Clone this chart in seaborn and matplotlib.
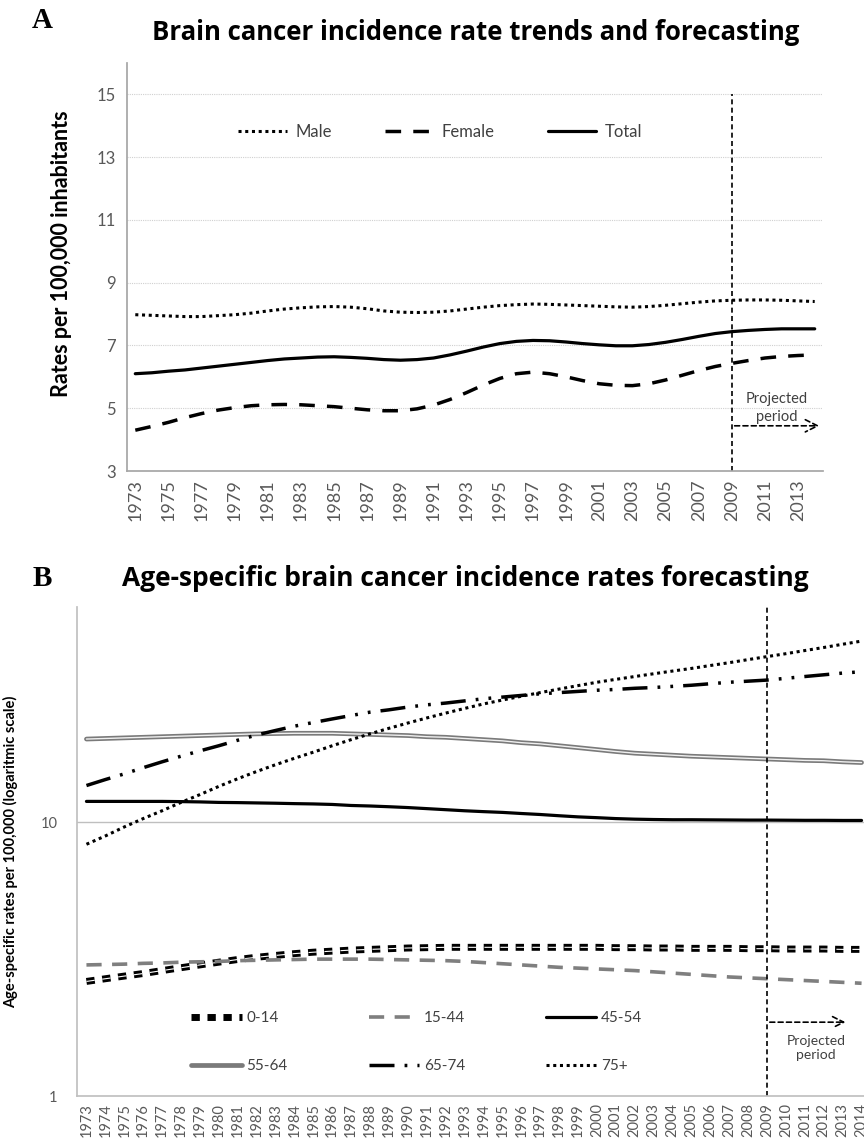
import numpy as np
import pandas as pd
import matplotlib
matplotlib.use("Agg")
import matplotlib.pyplot as plt
import seaborn as sns

# ---------------- data ----------------
years = list(range(1973, 2015))

male = [7.98, 7.96, 7.94, 7.92, 7.92, 7.95, 7.98, 8.03, 8.10, 8.16, 8.20, 8.23, 8.24, 8.22,
        8.17, 8.10, 8.06, 8.05, 8.06, 8.10, 8.16, 8.22, 8.27, 8.30, 8.32, 8.31, 8.29, 8.27,
        8.25, 8.23, 8.22, 8.24, 8.28, 8.33, 8.38, 8.42, 8.44, 8.45, 8.45, 8.44, 8.42, 8.40]
female = [4.30, 4.42, 4.55, 4.70, 4.83, 4.94, 5.02, 5.08, 5.11, 5.12, 5.11, 5.08, 5.05, 5.00,
          4.95, 4.92, 4.92, 4.98, 5.10, 5.28, 5.50, 5.74, 5.95, 6.10, 6.15, 6.10, 6.00, 5.88,
          5.78, 5.73, 5.72, 5.78, 5.90, 6.05, 6.20, 6.33, 6.43, 6.52, 6.60, 6.65, 6.68, 6.70]
total = [6.10, 6.13, 6.18, 6.22, 6.28, 6.34, 6.40, 6.46, 6.52, 6.57, 6.60, 6.63, 6.64, 6.62,
         6.59, 6.55, 6.53, 6.55, 6.60, 6.70, 6.82, 6.95, 7.06, 7.13, 7.16, 7.15, 7.11, 7.06,
         7.02, 6.99, 6.99, 7.03, 7.10, 7.19, 7.29, 7.38, 7.44, 7.48, 7.51, 7.53, 7.53, 7.53]

age_0_14 = [2.62, 2.68, 2.74, 2.80, 2.87, 2.94, 3.01, 3.08, 3.15, 3.21, 3.26, 3.31, 3.35, 3.38,
            3.41, 3.43, 3.45, 3.47, 3.48, 3.49, 3.49, 3.49, 3.49, 3.49, 3.49, 3.49, 3.49, 3.49,
            3.48, 3.48, 3.47, 3.47, 3.46, 3.46, 3.46, 3.45, 3.45, 3.44, 3.44, 3.44, 3.43, 3.43]
age_15_44 = [3.01, 3.02, 3.03, 3.05, 3.06, 3.08, 3.09, 3.10, 3.12, 3.13, 3.14, 3.15, 3.16, 3.16,
             3.16, 3.16, 3.15, 3.14, 3.13, 3.12, 3.10, 3.07, 3.04, 3.01, 2.98, 2.95, 2.93, 2.91,
             2.89, 2.87, 2.84, 2.81, 2.78, 2.75, 2.72, 2.70, 2.68, 2.66, 2.64, 2.62, 2.60, 2.58]
age_45_54 = [11.9, 11.9, 11.9, 11.9, 11.9, 11.88, 11.85, 11.8, 11.78, 11.75, 11.72, 11.68, 11.65,
             11.6, 11.5, 11.45, 11.38, 11.3, 11.2, 11.1, 11.0, 10.92, 10.85, 10.75, 10.66, 10.55,
             10.45, 10.38, 10.3, 10.25, 10.22, 10.2, 10.2, 10.19, 10.18, 10.17, 10.17, 10.16,
             10.15, 10.15, 10.14, 10.14]
age_55_64 = [20.1, 20.2, 20.3, 20.4, 20.5, 20.6, 20.7, 20.8, 20.9, 21.0, 21.05, 21.1, 21.1, 21.1,
             21.0, 20.9, 20.8, 20.7, 20.5, 20.4, 20.2, 20.0, 19.8, 19.5, 19.3, 19.0, 18.7, 18.4,
             18.1, 17.85, 17.7, 17.55, 17.4, 17.3, 17.2, 17.1, 17.0, 16.9, 16.8, 16.75, 16.6, 16.5]
age_65_74 = [13.6, 14.3, 15.0, 15.8, 16.6, 17.4, 18.2, 19.0, 19.9, 20.8, 21.6, 22.4, 23.1, 23.8,
             24.5, 25.2, 25.7, 26.3, 26.8, 27.2, 27.7, 28.2, 28.6, 29.0, 29.4, 29.7, 30.0, 30.3,
             30.5, 30.8, 31.0, 31.3, 31.6, 32.0, 32.4, 32.7, 33.0, 33.5, 34.0, 34.5, 35.0, 35.4]
age_75p = [8.3, 8.9, 9.6, 10.3, 11.0, 11.8, 12.6, 13.5, 14.4, 15.3, 16.2, 17.1, 18.0, 19.0,
           20.0, 21.0, 22.0, 23.0, 24.0, 25.0, 26.0, 27.0, 27.9, 28.8, 29.7, 30.6, 31.5, 32.4,
           33.2, 34.0, 34.8, 35.6, 36.4, 37.3, 38.2, 39.2, 40.2, 41.2, 42.3, 43.4, 44.6, 45.8]

projection_start = 2009
a_ticks = [3, 5, 7, 9, 11, 13, 15]
a_xticks = list(range(1973, 2014, 2))

# ---------------- style ----------------
sns.set_theme(style="white")
plt.rcParams['font.family'] = ['Lato', 'DejaVu Sans']
TICKC = "#595959"
SPINEC = "#a6a6a6"

fig = plt.figure(figsize=(8.64, 11.46), dpi=100)

# ================= Panel A =================
axA = fig.add_axes([127/864, 1-471/1146, (823-127)/864, (471-63)/1146])
dfA = pd.DataFrame({"year": years, "Male": male, "Female": female, "Total": total})

sns.lineplot(data=dfA, x="year", y="Male", ax=axA, color="black", linewidth=2.2,
             linestyle=(0, (1, 1.2)), label="Male")
sns.lineplot(data=dfA, x="year", y="Female", ax=axA, color="black", linewidth=2.5,
             linestyle=(0, (4.5, 3.5)), label="Female")
sns.lineplot(data=dfA, x="year", y="Total", ax=axA, color="black", linewidth=2.3,
             linestyle="-", label="Total")

axA.set_xlim(1972.5, 2014.5)
axA.set_ylim(3, 16)
axA.set_yticks(a_ticks)
axA.set_yticklabels([str(t) for t in a_ticks])
axA.set_xticks(a_xticks)
axA.set_xticklabels([str(y) for y in a_xticks], rotation=90)
axA.tick_params(axis="both", length=0, labelcolor=TICKC)
axA.tick_params(axis="y", pad=8, labelsize=12)
axA.tick_params(axis="x", pad=6, labelsize=13)
for t in a_ticks[1:]:
    axA.axhline(t, color="#d0d0d0", linewidth=0.8, linestyle=(0, (1, 1)), zorder=0)
for s in ["top", "right"]:
    axA.spines[s].set_visible(False)
axA.spines["left"].set_color(SPINEC)
axA.spines["bottom"].set_color(SPINEC)
axA.set_xlabel("")
axA.set_ylabel("Rates per 100,000 inhabitants", fontsize=15.5, fontweight="bold",
               color="black")
axA.yaxis.set_label_coords(-0.079, 0.532)
axA.vlines(projection_start, 3, 15, colors="black", linewidth=1.2, linestyles=(0, (3, 2)))
axA.annotate("", xy=(2014.45, 4.44), xytext=(projection_start, 4.44),
             arrowprops=dict(arrowstyle="->", color="black", lw=1.2,
                             linestyle=(0, (3, 2)), mutation_scale=22))
axA.text(2011.7, 5.0, "Projected\nperiod", ha="center", va="center", fontsize=10.5,
         color="#404040", linespacing=1.4)
hA, lA = axA.get_legend_handles_labels()
axA.legend(hA, lA, ncol=3, frameon=False, loc="center", bbox_to_anchor=(0.45, 0.832),
           fontsize=12, handlelength=2.9, handletextpad=0.5, columnspacing=3.2,
           labelcolor="#404040")

# ================= Panel B =================
axB = fig.add_axes([77/864, 1-1096/1146, (871-77)/864, (1096-607)/1146])
dfB = pd.DataFrame({"year": years, "0-14": age_0_14, "15-44": age_15_44, "45-54": age_45_54,
                    "55-64": age_55_64, "65-74": age_65_74, "75+": age_75p})

sns.lineplot(data=dfB, x="year", y="0-14", ax=axB, color="black", linewidth=5,
             linestyle=(0, (1.2, 1.1)), label="0-14")
sns.lineplot(data=dfB, x="year", y="0-14", ax=axB, color="white", linewidth=0.8,
             linestyle=(0, (7.5, 6.9)), legend=False)
sns.lineplot(data=dfB, x="year", y="15-44", ax=axB, color="#7f7f7f", linewidth=2.6,
             linestyle=(0, (4.2, 2.9)), label="15-44")
sns.lineplot(data=dfB, x="year", y="45-54", ax=axB, color="black", linewidth=2.3,
             linestyle="-", label="45-54")
sns.lineplot(data=dfB, x="year", y="55-64", ax=axB, color="#7a7a7a", linewidth=3.4,
             linestyle="-", label="55-64")
sns.lineplot(data=dfB, x="year", y="55-64", ax=axB, color="#f0f0f0", linewidth=1.0,
             linestyle="-", legend=False)
sns.lineplot(data=dfB, x="year", y="65-74", ax=axB, color="black", linewidth=2.5,
             linestyle=(0, (7.2, 2.9, 0.8, 2.9, 0.8, 2.9)), label="65-74")
sns.lineplot(data=dfB, x="year", y="75+", ax=axB, color="black", linewidth=2.2,
             linestyle=(0, (1, 1.2)), label="75+")

axB.set_yscale("log")
axB.set_ylim(1, 61)
axB.set_xlim(1972.5, 2014.5)
axB.set_yticks([1, 10])
axB.set_yticklabels(["1", "10"])
axB.yaxis.set_minor_locator(matplotlib.ticker.NullLocator())
axB.set_xticks(years)
axB.set_xticklabels([str(y) for y in years], rotation=90)
axB.tick_params(axis="both", length=0, labelsize=10.5, labelcolor=TICKC)
axB.tick_params(axis="y", pad=14)
axB.tick_params(axis="x", pad=5)
axB.axhline(10, color="#bfbfbf", linewidth=1.0, zorder=0)
for s in ["top", "right"]:
    axB.spines[s].set_visible(False)
axB.spines["left"].set_color("#c0c0c0")
axB.spines["bottom"].set_color("#c0c0c0")
axB.set_xlabel("")
axB.set_ylabel("Age-specific rates per 100,000 (logaritmic scale)", fontsize=10.5,
               fontweight="bold", color="black", labelpad=16)
axB.axvline(projection_start, color="black", linewidth=1.2, linestyle=(0, (3, 2)))
axB.annotate("", xy=(2013.3, 1.86), xytext=(projection_start, 1.86),
             arrowprops=dict(arrowstyle="->", color="black", lw=1.2,
                             linestyle=(0, (3, 2)), mutation_scale=20))
axB.text(2011.6, 1.50, "Projected\nperiod", ha="center", va="center", fontsize=10,
         color="#404040", linespacing=1.25)

hB, lB = axB.get_legend_handles_labels()
order = [0, 3, 1, 4, 2, 5]
axB.legend([hB[i] for i in order], [lB[i] for i in order], ncol=3, frameon=False,
           loc="center", bbox_to_anchor=(0.428, 0.11), fontsize=11, handlelength=3.3,
           handletextpad=0.3, columnspacing=5.3, labelspacing=2.2, labelcolor="#404040")

# ================= titles & panel letters =================
fig.text(476/864, 1-33/1146, "Brain cancer incidence rate trends and forecasting",
         ha="center", va="center", fontsize=18.5, fontweight="bold", color="black",
         family="Open Sans")
fig.text(465/864, 1-578/1146, "Age-specific brain cancer incidence rates forecasting",
         ha="center", va="center", fontsize=19, fontweight="bold", color="black",
         family="Open Sans")
fig.text(42/864, 1-20/1146, "A", ha="center", va="center", fontsize=21, fontweight="bold",
         family="Liberation Serif", color="black")
fig.text(42/864, 1-578/1146, "B", ha="center", va="center", fontsize=21, fontweight="bold",
         family="Liberation Serif", color="black")

fig.savefig("out.png", dpi=100)
